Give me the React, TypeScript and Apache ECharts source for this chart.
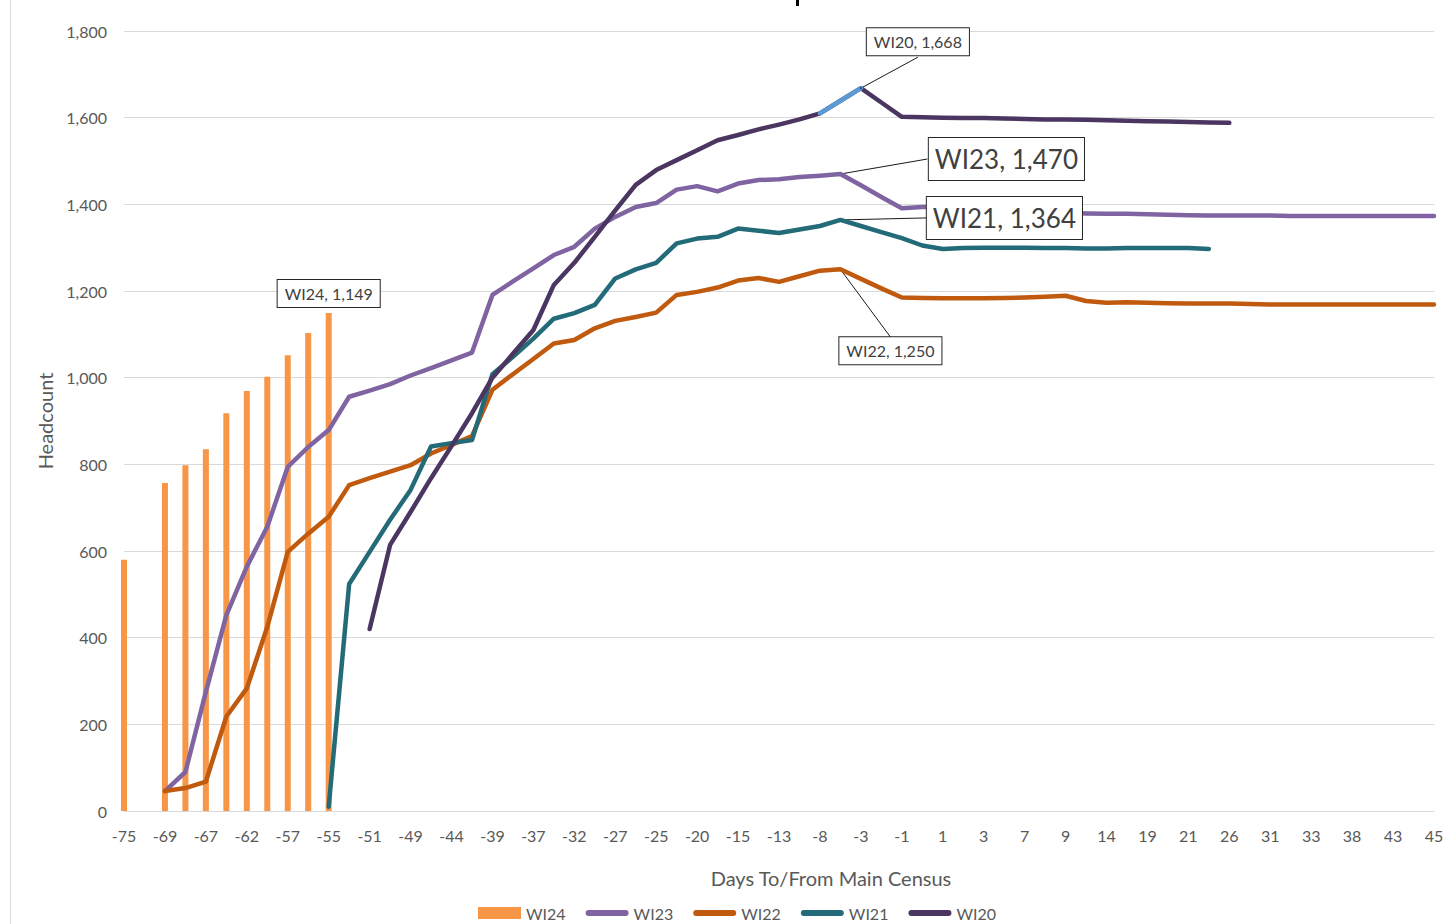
import React, { useEffect, useRef } from "react";
import * as echarts from "echarts";

const days = [
  "-75", "-70", "-69", "-68", "-67", "-63", "-62", "-58", "-57", "-56",
  "-55", "-52", "-51", "-50", "-49", "-45", "-44", "-40", "-39", "-38",
  "-37", "-33", "-32", "-28", "-27", "-26", "-25", "-21", "-20", "-16",
  "-15", "-14", "-13", "-9", "-8", "-4", "-3", "-2", "-1", "0",
  "1", "2", "3", "6", "7", "8", "9", "13", "14", "18",
  "19", "20", "21", "25", "26", "30", "31", "32", "33", "37",
  "38", "42", "43", "44", "45",
];

const N = null;

const wi24 = [
  580, N, 757, 798, 835, 918, 969, 1002, 1052, 1103,
  1149, N, N, N, N, N, N, N, N, N,
  N, N, N, N, N, N, N, N, N, N,
  N, N, N, N, N, N, N, N, N, N,
  N, N, N, N, N, N, N, N, N, N,
  N, N, N, N, N, N, N, N, N, N,
  N, N, N, N, N,
];

const wi23 = [
  N, N, 46, 90, 275, 452, 564, 656, 794, 840,
  879, 956, 970, 985, 1005, 1022, 1040, 1058, 1191, 1222,
  1252, 1283, 1302, 1344, 1371, 1394, 1403, 1434, 1442, 1430,
  1448, 1456, 1458, 1463, 1466, 1470, 1444, 1417, 1391, 1394,
  1394, 1392, 1390, 1388, 1386, 1384, 1381, 1379, 1378, 1378,
  1377, 1376, 1375, 1374, 1374, 1374, 1374, 1373, 1373, 1373,
  1373, 1373, 1373, 1373, 1373,
];

const wi22 = [
  N, N, 46, 53, 68, 218, 283, 425, 598, 640,
  679, 752, 768, 783, 798, 825, 845, 865, 972, 1008,
  1043, 1079, 1087, 1114, 1131, 1140, 1150, 1191, 1198, 1208,
  1224, 1230, 1221, 1234, 1247, 1250, 1228, 1206, 1185, 1184,
  1183, 1183, 1183, 1184, 1185, 1187, 1189, 1177, 1173, 1174,
  1173, 1172, 1171, 1171, 1171, 1170, 1169, 1169, 1169, 1169,
  1169, 1169, 1169, 1169, 1169,
];

const wi21 = [
  N, N, N, N, N, N, N, N, N, N,
  10, 524, 598, 672, 741, 841, 849, 856, 1008, 1048,
  1090, 1136, 1149, 1168, 1229, 1250, 1265, 1310, 1321, 1325,
  1344, 1339, 1334, 1342, 1350, 1364, 1350, 1336, 1322, 1305,
  1297, 1299, 1300, 1300, 1300, 1299, 1299, 1298, 1298, 1299,
  1299, 1299, 1299, 1297, N, N, N, N, N, N,
  N, N, N, N, N,
];

const wi20 = [
  N, N, N, N, N, N, N, N, N, N,
  N, N, 420, 614, 690, 768, 842, 918, 1000, 1055,
  1110, 1214, 1265, 1325, 1386, 1445, 1479, 1502, 1525, 1548,
  1560, 1573, 1584, 1596, 1610, 1639, 1668, 1635, 1602, 1601,
  1600, 1599, 1599, 1598, 1597, 1596, 1596, 1595, 1594, 1593,
  1592, 1591, 1590, 1589, 1588, N, N, N, N, N,
  N, N, N, N, N,
];

const seriesNames = ["WI24", "WI23", "WI22", "WI21", "WI20"];
const yTicks = { min: 0, max: 1800, step: 200 };

const FONT = "Lato";
const GREY = "#595959";

const colors = {
  WI24: "#F79646",
  WI23: "#8064A2",
  WI22: "#C05A0E",
  WI21: "#236B78",
  WI20: "#4A3661",
  highlight: "#5B9BD5",
};

// label placement (pixel offsets from the labelled point) — layout only
const labelOffsets: Record<string, { dx: number; dy: number; lx: number; ly: number }> = {
  WI23: { dx: 166, dy: 12, lx: 87, ly: -15 },
  WI22: { dx: 50, dy: 101, lx: 51, ly: 69 },
  WI21: { dx: 164, dy: 25, lx: 86, ly: -2 },
  WI20: { dx: 57, dy: -27, lx: 57, ly: -31 },
};

const fmt = (v: number) => v.toLocaleString("en-US");

const smallBox = {
  fontFamily: FONT,
  fontSize: 16,
  lineHeight: 19,
  color: "#404040",
  backgroundColor: "#ffffff",
  borderColor: "#262626",
  borderWidth: 1,
  padding: [4, 7, 4, 7],
};
const bigBox = {
  ...smallBox,
  fontSize: 26,
  lineHeight: 30,
  padding: [6, 6, 6, 6],
};

function peakIndex(arr: (number | null)[]) {
  let idx = -1;
  let best = -Infinity;
  arr.forEach((v, i) => {
    if (v != null && v > best) {
      best = v;
      idx = i;
    }
  });
  return idx;
}

function labelPeak(arr: (number | null)[], name: string, big: boolean) {
  const idx = peakIndex(arr);
  return arr.map((v, i) =>
    i === idx
      ? {
          value: v,
          symbol: "circle",
          symbolSize: 2,
          label: {
            show: true,
            position: "top",
            distance: 5,
            formatter: () => `${name}, ${fmt(v as number)}`,
            ...(big ? bigBox : smallBox),
          },
        }
      : v
  );
}

const lineIcon = "path://M3,0L40,0A3,3,0,0,1,40,6L3,6A3,3,0,0,1,3,0Z";

export default function App() {
  const ref = useRef<HTMLDivElement>(null);

  useEffect(() => {
    document.body.style.margin = "0";
    const chart = echarts.init(ref.current as HTMLDivElement, null, { renderer: "svg" });

    const lineBase = {
      type: "line",
      symbol: "none",
      showSymbol: true,
      showAllSymbol: true,
      lineStyle: { width: 4.5, cap: "round", join: "round" },
      emphasis: { disabled: true },
    };

    const hi = peakIndex(wi20);
    const highlight = wi20.map((v, i) => (i >= hi - 2 && i <= hi ? v : null));

    const peakSeries: [string, (number | null)[]][] = [
      ["WI23", wi23],
      ["WI22", wi22],
      ["WI21", wi21],
      ["WI20", wi20],
    ];
    const leaderData = peakSeries.map(([name, arr]) => {
      const i = peakIndex(arr);
      const o = labelOffsets[name];
      return [i, arr[i] as number, o.lx, o.ly];
    });

    const option = {
      animation: false,
      backgroundColor: "#ffffff",
      textStyle: { fontFamily: FONT },
      grid: { left: 124, right: 15, top: 31, bottom: 113, containLabel: false },
      legend: {
        left: 478,
        top: 905,
        padding: 0,
        itemWidth: 43,
        itemHeight: 12,
        itemGap: 20,
        textStyle: { fontFamily: FONT, fontSize: 16, color: GREY },
        data: [
          { name: "WI24", icon: "rect" },
          { name: "WI23", icon: lineIcon },
          { name: "WI22", icon: lineIcon },
          { name: "WI21", icon: lineIcon },
          { name: "WI20", icon: lineIcon },
        ],
      },
      xAxis: {
        type: "category",
        data: days,
        boundaryGap: false,
        axisLine: { show: false },
        axisTick: { show: false },
        axisLabel: {
          interval: 1,
          color: GREY,
          fontFamily: FONT,
          fontSize: 16,
          margin: 16,
        },
        splitLine: { show: false },
      },
      yAxis: {
        type: "value",
        min: yTicks.min,
        max: yTicks.max,
        interval: yTicks.step,
        axisLine: { show: false },
        axisTick: { show: false },
        axisLabel: {
          color: GREY,
          fontFamily: FONT,
          fontSize: 16,
          margin: 17,
          formatter: (v: number) => fmt(v),
        },
        splitLine: { lineStyle: { color: "#D9D9D9", width: 1 } },
      },
      graphic: [
        { type: "rect", left: 10, top: 0, shape: { width: 1, height: 924 }, style: { fill: "#D9D9D9" } },
        { type: "rect", left: 796, top: 0, shape: { width: 3, height: 6 }, style: { fill: "#000000" } },
        {
          type: "text",
          x: 831,
          y: 878,
          style: {
            text: "Days To/From Main Census",
            fontFamily: FONT,
            fontSize: 20,
            fill: GREY,
            align: "center",
            verticalAlign: "middle",
          },
        },
        {
          type: "text",
          x: 45,
          y: 421,
          rotation: Math.PI / 2,
          style: {
            text: "Headcount",
            fontFamily: FONT,
            fontSize: 20,
            fill: GREY,
            align: "center",
            verticalAlign: "middle",
          },
        },
      ],
      series: [
        {
          name: seriesNames[0],
          type: "bar",
          barWidth: 6,
          itemStyle: { color: colors.WI24 },
          emphasis: { disabled: true },
          data: wi24.map((v, i) =>
            i === peakIndex(wi24)
              ? {
                  value: v,
                  label: {
                    show: true,
                    position: "top",
                    distance: 6,
                    formatter: () => `WI24, ${fmt(v as number)}`,
                    ...smallBox,
                  },
                }
              : v
          ),
        },
        {
          type: "custom",
          name: "leaders",
          silent: true,
          z: 1,
          renderItem: (_p: any, api: any) => {
            const pt = api.coord([api.value(0), api.value(1)]);
            return {
              type: "line",
              shape: {
                x1: pt[0],
                y1: pt[1],
                x2: pt[0] + api.value(2),
                y2: pt[1] + api.value(3),
              },
              style: { stroke: "#1a1a1a", lineWidth: 1 },
            };
          },
          data: leaderData,
        },
        {
          ...lineBase,
          name: seriesNames[1],
          itemStyle: { color: colors.WI23 },
          lineStyle: { ...lineBase.lineStyle, color: colors.WI23 },
          labelLayout: { dx: labelOffsets.WI23.dx, dy: labelOffsets.WI23.dy },
          data: labelPeak(wi23, "WI23", true),
        },
        {
          ...lineBase,
          name: seriesNames[2],
          itemStyle: { color: colors.WI22 },
          lineStyle: { ...lineBase.lineStyle, color: colors.WI22 },
          labelLayout: { dx: labelOffsets.WI22.dx, dy: labelOffsets.WI22.dy },
          data: labelPeak(wi22, "WI22", false),
        },
        {
          ...lineBase,
          name: seriesNames[3],
          itemStyle: { color: colors.WI21 },
          lineStyle: { ...lineBase.lineStyle, color: colors.WI21 },
          labelLayout: { dx: labelOffsets.WI21.dx, dy: labelOffsets.WI21.dy },
          data: labelPeak(wi21, "WI21", true),
        },
        {
          ...lineBase,
          name: seriesNames[4],
          itemStyle: { color: colors.WI20 },
          lineStyle: { ...lineBase.lineStyle, color: colors.WI20 },
          labelLayout: { dx: labelOffsets.WI20.dx, dy: labelOffsets.WI20.dy },
          data: labelPeak(wi20, "WI20", false),
        },
        {
          type: "line",
          name: "WI20 peak segment",
          symbol: "none",
          connectNulls: false,
          lineStyle: { width: 4.5, cap: "round", color: colors.highlight },
          itemStyle: { color: colors.highlight },
          emphasis: { disabled: true },
          z: 3,
          data: highlight,
        },
      ],
    };

    chart.setOption(option as any);
    return () => chart.dispose();
  }, []);

  return <div ref={ref} style={{ width: 1449, height: 924 }} />;
}
